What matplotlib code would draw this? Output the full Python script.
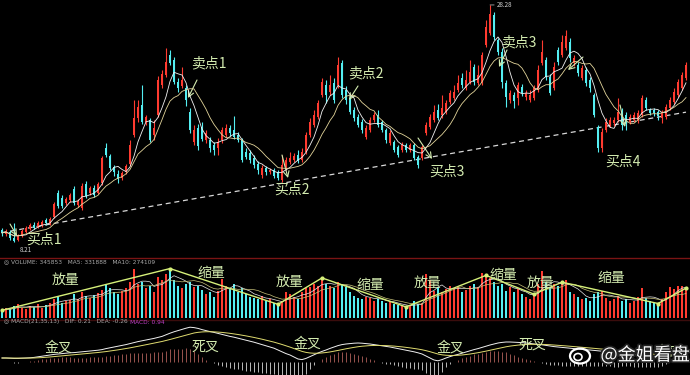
"""
Daily K-line chart with volume and MACD panels, buy / sell points marked.
"""
import matplotlib
matplotlib.use("Agg")
import matplotlib.pyplot as plt
import matplotlib.patheffects as pe
from matplotlib.lines import Line2D
from matplotlib.patches import Ellipse
import numpy as np
import pandas as pd

# Configuration
FIG_W, FIG_H = 690, 375
DPI = 100
BG = "#000000"
UP = "#ff3b30"
DOWN = "#54eef2"
NOTE = "#d4ecb0"
CJK = ["Noto Sans CJK SC", "DejaVu Sans"]

# Daily prices (yuan)
opens = [
    9.22, 8.88, 9.05, 8.54, 8.37, 8.71, 9.05, 9.30, 9.64, 9.47, 9.56, 10.07,
    9.73, 10.32, 12.35, 11.93, 11.51, 11.76, 12.69, 11.34, 11.08, 13.12, 12.35, 12.78,
    12.35, 13.20, 16.16, 15.49, 14.55, 13.96, 13.62, 14.13, 14.81, 17.27, 18.71, 19.81,
    18.37, 18.54, 17.27, 18.96, 21.50, 22.35, 24.04, 23.62, 21.75, 21.42, 21.25, 19.21,
    16.67, 17.86, 17.94, 16.84, 16.84, 16.42, 16.16, 16.84, 17.27, 17.86, 17.69, 17.27,
    16.84, 15.83, 15.74, 15.32, 14.81, 13.88, 14.47, 14.13, 14.30, 14.13, 13.45, 14.55,
    14.98, 15.15, 15.57, 15.15, 15.83, 17.27, 18.11, 18.79, 20.65, 21.50, 20.91, 21.67,
    21.50, 23.36, 21.08, 20.40, 19.38, 18.79, 18.37, 17.10, 17.69, 18.54, 18.96, 18.37,
    17.69, 16.59, 16.67, 16.25, 15.99, 16.42, 15.99, 16.42, 15.40, 15.32, 17.43, 17.94,
    18.54, 19.38, 18.96, 19.21, 20.06, 20.40, 21.08, 22.09, 21.25, 21.75, 23.03, 21.67,
    21.67, 24.89, 25.90, 27.43, 25.31, 24.30, 21.67, 20.23, 20.65, 20.40, 21.33, 20.48,
    20.23, 20.40, 21.08, 23.36, 23.62, 22.18, 21.25, 24.47, 24.04, 24.63, 25.14, 23.36,
    23.19, 22.09, 22.77, 21.92, 20.65, 17.94, 16.16, 17.69, 18.11, 18.28, 18.54, 19.21,
    18.96, 18.37, 18.54, 18.54, 18.96, 20.23, 19.38, 19.38, 19.21, 18.71, 18.79, 19.55,
    20.06, 20.65, 21.25, 22.09,
]
closes = [
    8.97, 9.13, 8.54, 8.29, 8.71, 9.13, 9.39, 9.64, 9.39, 9.81, 9.90, 9.81,
    10.15, 11.42, 11.25, 11.25, 11.84, 12.18, 11.51, 11.68, 12.95, 12.10, 12.78, 12.18,
    13.12, 15.32, 15.57, 14.47, 14.13, 13.54, 14.05, 14.64, 16.42, 18.71, 19.64, 18.37,
    18.79, 16.84, 17.86, 21.92, 22.43, 23.45, 23.36, 21.75, 21.25, 21.92, 20.23, 17.69,
    17.69, 16.33, 16.93, 17.43, 16.16, 15.99, 16.67, 17.69, 17.86, 17.43, 17.10, 16.84,
    15.15, 15.40, 15.15, 14.72, 14.30, 14.47, 14.13, 14.30, 13.79, 13.62, 14.72, 15.15,
    15.32, 15.49, 15.06, 15.83, 17.27, 18.37, 18.96, 19.98, 21.75, 20.65, 21.50, 20.23,
    23.19, 20.65, 20.23, 19.21, 18.71, 18.11, 17.69, 17.86, 18.54, 18.96, 18.11, 17.69,
    16.84, 17.43, 15.99, 15.57, 16.42, 15.99, 16.42, 15.32, 14.72, 16.25, 18.11, 18.79,
    19.21, 18.71, 19.55, 19.98, 20.82, 20.91, 21.67, 21.50, 21.92, 22.60, 21.75, 22.35,
    24.04, 26.41, 27.51, 25.57, 24.30, 21.75, 20.48, 20.82, 20.15, 21.50, 20.82, 20.82,
    20.65, 21.25, 22.77, 24.30, 22.18, 20.82, 23.03, 23.45, 25.14, 25.65, 23.79, 23.79,
    22.52, 22.94, 21.67, 21.25, 18.96, 16.16, 17.52, 18.37, 18.54, 18.54, 19.21, 18.11,
    18.37, 18.79, 18.96, 19.13, 20.40, 19.55, 19.13, 19.13, 18.87, 19.13, 19.64, 20.23,
    20.91, 21.75, 22.35, 23.19,
]
highs = [
    9.39, 9.30, 9.22, 9.81, 8.88, 9.30, 9.56, 9.81, 9.90, 9.98, 10.07, 10.24,
    10.32, 11.59, 12.61, 12.18, 12.01, 12.35, 12.95, 11.84, 13.20, 13.37, 12.95, 13.03,
    13.28, 15.49, 16.59, 15.66, 14.72, 14.30, 14.22, 14.81, 16.84, 20.23, 20.23, 21.50,
    18.96, 18.71, 18.54, 22.26, 22.77, 24.63, 24.47, 23.87, 22.09, 23.03, 21.50, 19.55,
    18.11, 18.20, 18.37, 17.69, 17.10, 16.67, 17.01, 17.94, 18.20, 18.11, 18.87, 17.52,
    17.01, 16.16, 15.99, 15.57, 15.06, 14.72, 14.64, 14.47, 14.47, 14.30, 15.57, 15.40,
    15.83, 15.74, 15.99, 16.16, 17.52, 18.71, 19.38, 20.23, 22.09, 21.92, 22.35, 22.09,
    23.87, 23.62, 21.42, 20.65, 19.64, 19.04, 18.62, 18.11, 18.79, 19.21, 19.38, 18.54,
    17.86, 17.69, 16.84, 16.42, 16.67, 16.59, 16.59, 16.59, 15.57, 16.42, 18.37, 19.04,
    19.81, 19.89, 20.65, 20.23, 21.08, 21.50, 22.35, 22.52, 22.77, 23.62, 23.28, 23.19,
    24.30, 27.01, 28.28, 27.68, 25.48, 24.63, 21.92, 21.08, 20.91, 21.75, 21.59, 21.08,
    21.08, 21.50, 23.19, 25.31, 23.87, 22.43, 23.45, 24.72, 25.74, 26.16, 25.48, 24.04,
    23.45, 23.19, 23.03, 22.18, 20.82, 18.11, 17.86, 18.71, 18.79, 18.79, 20.40, 19.55,
    19.21, 19.04, 19.21, 19.38, 20.65, 20.48, 19.55, 19.55, 19.38, 19.38, 19.89, 20.48,
    21.25, 22.01, 22.60, 23.45,
]
lows = [
    8.71, 8.71, 8.37, 8.21, 8.25, 8.63, 8.97, 9.22, 9.30, 9.39, 9.47, 9.64,
    9.64, 10.24, 11.08, 11.08, 11.34, 11.59, 11.34, 11.17, 10.91, 11.93, 12.18, 12.01,
    12.27, 13.03, 15.40, 14.30, 13.79, 13.20, 13.45, 13.96, 14.64, 17.10, 18.37, 18.20,
    18.11, 16.67, 16.84, 18.79, 21.25, 22.18, 23.19, 21.59, 20.91, 21.25, 19.72, 17.43,
    16.42, 15.99, 16.76, 16.59, 15.83, 15.57, 15.57, 16.59, 17.10, 17.18, 16.93, 16.67,
    14.98, 15.23, 14.89, 14.47, 13.96, 13.62, 13.88, 13.96, 13.62, 13.45, 13.28, 14.30,
    14.81, 14.98, 14.89, 14.98, 15.66, 17.10, 17.94, 18.62, 20.48, 19.98, 20.65, 19.98,
    21.25, 20.40, 19.89, 19.04, 18.45, 17.94, 17.43, 16.93, 17.52, 18.37, 17.94, 17.52,
    16.59, 16.42, 15.83, 15.40, 15.83, 15.83, 15.83, 15.15, 14.47, 15.15, 17.27, 17.77,
    18.37, 18.54, 18.71, 19.04, 19.89, 20.23, 20.91, 21.25, 21.08, 21.59, 21.50, 21.50,
    21.50, 24.72, 25.74, 25.31, 24.04, 21.25, 19.64, 19.98, 19.55, 19.81, 20.57, 20.23,
    20.06, 20.23, 20.91, 23.19, 21.92, 20.65, 21.08, 23.19, 23.87, 24.47, 23.45, 23.11,
    22.26, 21.92, 21.42, 20.91, 18.79, 15.83, 15.83, 17.52, 17.94, 18.03, 18.37, 17.69,
    17.69, 18.20, 18.37, 18.28, 18.79, 19.38, 18.96, 18.87, 18.54, 18.28, 18.62, 19.38,
    19.89, 20.48, 21.08, 21.92,
]
# Daily volume (10k hands)
volumes = [
    9, 12, 10, 14, 17, 12, 11, 14, 13, 16, 12, 15,
    18, 22, 25, 18, 20, 21, 28, 22, 30, 26, 24, 27,
    29, 33, 40, 35, 30, 28, 32, 35, 42, 57, 40, 42,
    35, 38, 30, 48, 45, 52, 58, 45, 38, 35, 40, 42,
    36, 38, 33, 28, 30, 25, 32, 46, 38, 34, 40, 30,
    35, 28, 25, 24, 22, 26, 20, 22, 18, 16, 20, 30,
    28, 25, 22, 30, 35, 36, 40, 38, 47, 40, 38, 35,
    42, 40, 36, 30, 26, 24, 22, 25, 24, 20, 22, 20,
    18, 19, 16, 15, 14, 13, 14, 20, 16, 18, 52, 44,
    32, 36, 30, 34, 38, 35, 36, 30, 33, 38, 40, 36,
    53, 50, 47, 42, 38, 40, 32, 36, 30, 34, 28, 25,
    22, 28, 40, 55, 42, 36, 40, 38, 42, 45, 30, 28,
    25, 22, 24, 20, 28, 30, 32, 24, 20, 22, 26, 20,
    22, 18, 20, 25, 35, 24, 20, 18, 17, 22, 30, 36,
    34, 38, 37, 35,
]
# MACD DIF line
dif_values = [
    0.20, 0.20, 0.19, 0.18, 0.18, 0.19, 0.20, 0.21, 0.23, 0.26, 0.29, 0.32,
    0.35, 0.38, 0.40, 0.42, 0.44, 0.46, 0.47, 0.49, 0.51, 0.53, 0.55, 0.57,
    0.59, 0.62, 0.67, 0.71, 0.75, 0.79, 0.83, 0.87, 0.92, 0.97, 1.02, 1.06,
    1.10, 1.14, 1.18, 1.23, 1.28, 1.36, 1.44, 1.51, 1.57, 1.63, 1.69, 1.74,
    1.72, 1.68, 1.62, 1.57, 1.52, 1.48, 1.43, 1.38, 1.33, 1.28, 1.24, 1.19,
    1.14, 1.09, 1.04, 0.99, 0.93, 0.87, 0.81, 0.75, 0.69, 0.60, 0.51, 0.42,
    0.35, 0.25, 0.15, 0.12, 0.18, 0.27, 0.36, 0.45, 0.53, 0.60, 0.68, 0.75,
    0.82, 0.87, 0.90, 0.92, 0.94, 0.95, 0.94, 0.92, 0.90, 0.87, 0.84, 0.81,
    0.78, 0.75, 0.71, 0.67, 0.63, 0.59, 0.55, 0.51, 0.46, 0.40, 0.30, 0.20,
    0.10, 0.06, 0.12, 0.20, 0.27, 0.33, 0.38, 0.44, 0.50, 0.56, 0.62, 0.67,
    0.73, 0.79, 0.85, 0.90, 0.95, 0.98, 1.00, 1.00, 0.99, 0.98, 0.97, 0.95,
    0.93, 0.90, 0.88, 0.86, 0.83, 0.80, 0.77, 0.75, 0.73, 0.71, 0.69, 0.67,
    0.65, 0.63, 0.61, 0.60, 0.58, 0.56, 0.54, 0.52, 0.50, 0.48, 0.46, 0.45,
    0.43, 0.41, 0.38, 0.35, 0.32, 0.30, 0.28, 0.26, 0.25, 0.26, 0.30, 0.34,
    0.38, 0.42, 0.46, 0.50,
]

# Support line (day index, price) and volume swing days
support_days = [0, 171]
support_prices = [9.00, 19.20]
volume_swing_days = [0, 42, 69, 80, 101, 121, 133, 140, 164, 171]

# Text marks: (label, x px, y px from top-left)
price_notes = [
    ("买点1", 44, 240), ("卖点1", 209, 63), ("买点2", 292, 190), ("卖点2", 366, 73),
    ("买点3", 447, 172), ("卖点3", 519, 42), ("买点4", 623, 162),
]
volume_notes = [
    ("放量", 66, 280), ("缩量", 211, 273), ("放量", 290, 282), ("缩量", 370, 285),
    ("放量", 428, 283), ("缩量", 503, 275), ("放量", 541, 283), ("缩量", 611, 278),
]
macd_notes = [
    ("金叉", 58, 348), ("死叉", 205, 347), ("金叉", 307, 344), ("金叉", 450, 348),
    ("死叉", 532, 345), ("金叉", 668, 352),
]
# Arrows: (from x, from y, to x, to y) in px from top-left
note_arrows = [
    (197, 80, 188, 98), (282, 155, 288, 178), (358, 86, 349, 100),
    (418, 138, 432, 159), (507, 50, 499, 67), (583, 57, 568, 70),
    (620, 105, 625, 127), (10, 224, 17, 236),
    (40, 352, 30, 362), (197, 330, 187, 335), (300, 350, 307, 360),
    (440, 351, 437, 362), (512, 341, 505, 346),
]


def fig_px(x, y):
    """Figure pixels measured from the top-left corner."""
    return x, FIG_H - y


def axes_rect(top, bottom):
    return [0, (FIG_H - bottom) / FIG_H, 1, (bottom - top) / FIG_H]


def style_axes(ax):
    ax.set_facecolor(BG)
    ax.set_xlim(-0.5, 172)
    ax.set_xticks([])
    ax.set_yticks([])
    for s in ax.spines.values():
        s.set_visible(False)


def plot_price(ax, idx, o, h, l, c, colors):
    ax.vlines(idx, l, h, colors=colors, lw=0.8, zorder=2)
    ax.bar(idx, np.maximum(np.abs(c - o), 0.05), bottom=np.minimum(o, c),
           width=0.62, color=colors, lw=0, zorder=3)

    close_s = pd.Series(c)
    ax.plot(idx, close_s.rolling(5, min_periods=1).mean(), color="#f2f2f2", lw=0.6, zorder=4)
    ax.plot(idx, close_s.rolling(10, min_periods=1).mean(), color="#e2d49a", lw=0.6, zorder=4)

    ax.plot(support_days, support_prices, color="#d8d8d8", lw=0.9,
            dashes=(4, 3), zorder=1)

    # price extremes
    lo_i, hi_i = int(np.argmin(l)), int(np.argmax(h))
    ax.annotate(f"{l[lo_i]:.2f}", xy=(lo_i, l[lo_i]), xytext=(4, -3), textcoords="offset points",
                color="#d0d0d0", fontsize=4.5, va="top", ha="left")
    ax.annotate(f"{h[hi_i]:.2f}", xy=(hi_i, h[hi_i]), xytext=(5, 0), textcoords="offset points",
                color="#d0d0d0", fontsize=4.5, va="center", ha="left",
                arrowprops=dict(arrowstyle="-", color="#d0d0d0", lw=0.5, shrinkA=0, shrinkB=0))
    ax.set_ylim(28.7 - 0.0847 * 257, 28.7)


def plot_volume(ax, idx, vol, colors):
    ax.bar(idx, vol, width=0.62, color=colors, lw=0)
    vol_s = pd.Series(vol)
    ax.plot(idx, vol_s.rolling(5, min_periods=1).mean(), color="#e8e8e8", lw=0.5)
    ax.plot(idx, vol_s.rolling(10, min_periods=1).mean(), color="#c8c27a", lw=0.5)
    swing_vol = [vol[i] for i in volume_swing_days]
    ax.plot(volume_swing_days, swing_vol, color="#d6f07a", lw=1.0, marker="o",
            markersize=2, zorder=5)
    ax.set_ylim(0, 61)


def plot_macd(ax, idx):
    dif = pd.Series(dif_values)
    dea = dif.ewm(span=13, adjust=False).mean()
    hist = 2 * (dif - dea)
    hist_colors = np.where(hist >= 0, "#b0605a", "#d8d8d8")
    ax.vlines(idx, 0, hist, colors=hist_colors, lw=0.6)
    ax.plot(idx, dif, color="#f0f0f0", lw=0.7)
    ax.plot(idx, dea, color="#e0dc70", lw=0.7)
    ax.set_ylim(-0.65, 1.85)


def main():
    plt.rcParams["font.family"] = CJK
    fig = plt.figure(figsize=(FIG_W / DPI, FIG_H / DPI), dpi=DPI, facecolor=BG)

    ax_price = fig.add_axes(axes_rect(0, 257))
    ax_vol = fig.add_axes(axes_rect(266, 318))
    ax_macd = fig.add_axes(axes_rect(325, 375))
    for ax in (ax_price, ax_vol, ax_macd):
        style_axes(ax)

    o, h, l, c = map(np.array, (opens, highs, lows, closes))
    idx = np.arange(len(c))
    colors = np.where(c >= o, UP, DOWN)

    plot_price(ax_price, idx, o, h, l, c, colors)
    plot_volume(ax_vol, idx, np.array(volumes), colors)
    plot_macd(ax_macd, idx)

    # panel separators
    for y, col in ((257.5, "#7a1414"), (319.5, "#3a0c0c")):
        fy = (FIG_H - y) / FIG_H
        fig.add_artist(Line2D([0, 1], [fy, fy], transform=fig.transFigure, color=col, lw=1))

    # panel headers
    fig.text(4 / FIG_W, 1 - 262 / FIG_H, "◎ VOLUME: 345853   MA5: 331888   MA10: 274109",
             color="#a8a8a8", fontsize=4.2, va="center", family="DejaVu Sans")
    fig.text(4 / FIG_W, 1 - 322 / FIG_H, "◎ MACD(21,35,13)   DIF: 0.21   DEA: -0.26",
             color="#a8a8a8", fontsize=4.2, va="center", family="DejaVu Sans")
    fig.text(130 / FIG_W, 1 - 322 / FIG_H, "MACD: 0.94", color="#c040c8", fontsize=4.2,
             va="center", family="DejaVu Sans")

    for label, x, y in price_notes + volume_notes + macd_notes:
        fx, fy = fig_px(x, y)
        fig.text(fx / FIG_W, fy / FIG_H, label, color=NOTE, fontsize=10,
                 ha="center", va="center", family=CJK)

    for x1, y1, x2, y2 in note_arrows:
        ax_price.annotate("", xy=fig_px(x2, y2), xytext=fig_px(x1, y1),
                          xycoords="figure pixels", textcoords="figure pixels",
                          arrowprops=dict(arrowstyle="->", color=NOTE, lw=0.8,
                                          shrinkA=0, shrinkB=0))

    # watermark
    stroke = [pe.withStroke(linewidth=2.5, foreground="#222222")]
    fig.text(645 / FIG_W, 1 - 355 / FIG_H, "@金姐看盘", color="white", fontsize=13,
             ha="center", va="center", family=CJK, path_effects=stroke, zorder=10)
    logo = Ellipse((580 / FIG_W, 1 - 356 / FIG_H), 20 / FIG_W, 15 / FIG_H,
                   transform=fig.transFigure, fill=False, ec="white", lw=1.6, zorder=10)
    fig.add_artist(logo)
    eye = Ellipse((578 / FIG_W, 1 - 357 / FIG_H), 8 / FIG_W, 7 / FIG_H,
                  transform=fig.transFigure, fill=False, ec="white", lw=1.2, zorder=10)
    fig.add_artist(eye)

    fig.savefig("out.png", dpi=DPI, facecolor=BG)
    plt.close(fig)


if __name__ == "__main__":
    main()
